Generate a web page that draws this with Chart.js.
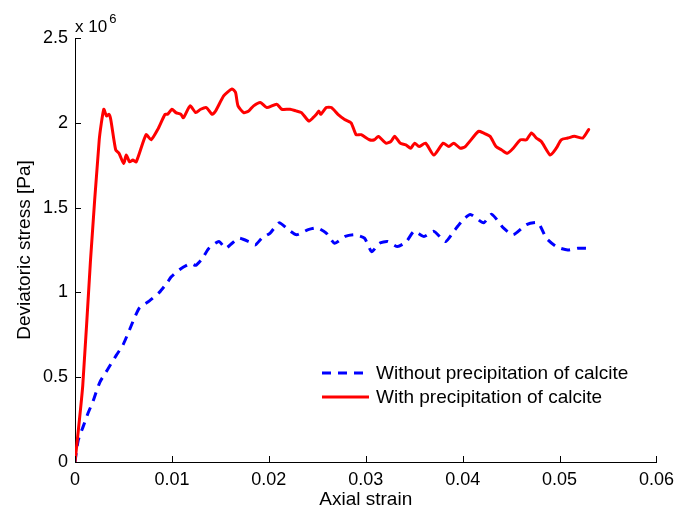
<!DOCTYPE html>
<html>
<head>
<meta charset="utf-8">
<title>Deviatoric stress vs axial strain</title>
<script src="https://cdn.jsdelivr.net/npm/chart.js@4/dist/chart.umd.min.js"></script>
<style>
  html, body { margin: 0; padding: 0; background: #ffffff; }
  #wrap { width: 681px; height: 512px; }
</style>
</head>
<body>
<div id="wrap"><canvas id="chart" width="681" height="512"></canvas></div>
<script>
// Axial strain (-) and deviatoric stress (x 10^6 Pa) for both tests
const blueStrain = [
  0, 0.00034, 0.00085, 0.00136, 0.00187, 0.00256, 0.00341, 0.00427, 0.00495, 0.00563,
  0.00614, 0.00666, 0.00768, 0.0087, 0.00955, 0.0099, 0.01092, 0.01195, 0.01246, 0.01314,
  0.01382, 0.01485, 0.01553, 0.01621, 0.01689, 0.01792, 0.0186, 0.01928, 0.02014, 0.02106,
  0.02201, 0.02286, 0.02406, 0.02501, 0.02593, 0.02679, 0.02788, 0.02884, 0.02987, 0.03061,
  0.0314, 0.03225, 0.03328, 0.0342, 0.03499, 0.03601, 0.03703, 0.03822, 0.03908, 0.03993,
  0.04078, 0.04215, 0.043, 0.0442, 0.04522, 0.04659, 0.04778, 0.04863, 0.04966, 0.05085,
  0.05188, 0.053
];
const blueStress = [
  0, 0.13, 0.21, 0.29, 0.36, 0.47, 0.55, 0.63, 0.69, 0.78,
  0.85, 0.91, 0.95, 1.00, 1.06, 1.09, 1.14, 1.17, 1.16, 1.20,
  1.26, 1.30, 1.26, 1.29, 1.32, 1.30, 1.28, 1.32, 1.35, 1.41,
  1.37, 1.34, 1.37, 1.38, 1.35, 1.29, 1.33, 1.34, 1.32, 1.24,
  1.29, 1.30, 1.27, 1.30, 1.36, 1.33, 1.36, 1.30, 1.36, 1.42,
  1.46, 1.41, 1.46, 1.38, 1.34, 1.40, 1.41, 1.32, 1.27, 1.25,
  1.26, 1.26
];
const redStrain = [
  0, 0.0008, 0.0016, 0.0025, 0.00297, 0.00325, 0.00351, 0.00369, 0.0042, 0.00454,
  0.00502, 0.00529, 0.00563, 0.00597, 0.00632, 0.00734, 0.00785, 0.00853, 0.00929, 0.00955,
  0.0100, 0.01041, 0.01092, 0.01119, 0.01188, 0.01246, 0.01297, 0.01355, 0.01416, 0.01451,
  0.01536, 0.01621, 0.01656, 0.01682, 0.01741, 0.01792, 0.01843, 0.01912, 0.01979, 0.02081,
  0.02133, 0.02219, 0.0228, 0.02337, 0.02413, 0.02457, 0.02491, 0.02516, 0.02536, 0.02593,
  0.02645, 0.02713, 0.02782, 0.02849, 0.02901, 0.02952, 0.03038, 0.03089, 0.0313, 0.03208,
  0.03259, 0.033, 0.03355, 0.03413, 0.03464, 0.03505, 0.0355, 0.03617, 0.03703, 0.03799,
  0.03857, 0.03908, 0.03976, 0.04027, 0.04164, 0.04215, 0.04283, 0.04344, 0.04403, 0.04461,
  0.04522, 0.04597, 0.04659, 0.0471, 0.04761, 0.04812, 0.04904, 0.04966, 0.05017, 0.05085,
  0.05153, 0.05239, 0.053
];
const redStress = [
  0, 0.45, 1.19, 1.90, 2.08, 2.04, 2.05, 2.02, 1.84, 1.82,
  1.76, 1.81, 1.77, 1.78, 1.77, 1.93, 1.90, 1.96, 2.05, 2.05,
  2.08, 2.06, 2.05, 2.03, 2.10, 2.06, 2.08, 2.09, 2.05, 2.07,
  2.16, 2.20, 2.18, 2.10, 2.06, 2.07, 2.10, 2.12, 2.09, 2.11,
  2.08, 2.08, 2.07, 2.06, 2.01, 2.03, 2.05, 2.07, 2.05, 2.09,
  2.09, 2.05, 2.02, 2.00, 1.93, 1.93, 1.90, 1.90, 1.92, 1.88,
  1.89, 1.92, 1.88, 1.87, 1.85, 1.88, 1.86, 1.88, 1.81, 1.88,
  1.86, 1.88, 1.85, 1.86, 1.95, 1.94, 1.92, 1.86, 1.84, 1.82,
  1.85, 1.90, 1.90, 1.94, 1.91, 1.89, 1.81, 1.85, 1.90, 1.91,
  1.92, 1.91, 1.96
];

const seriesLabels = ['Without precipitation of calcite', 'With precipitation of calcite'];
const xTicks = [0, 0.01, 0.02, 0.03, 0.04, 0.05, 0.06];
const xTickLabels = ['0', '0.01', '0.02', '0.03', '0.04', '0.05', '0.06'];
const yTicks = [0, 0.5, 1, 1.5, 2, 2.5];
const yTickLabels = ['0', '0.5', '1', '1.5', '2', '2.5'];
const yExponent = '6';

const FONT = '"Liberation Sans", Arial, Helvetica, sans-serif';

function toPoints(xs, ys) {
  return xs.map((x, i) => ({ x: x, y: ys[i] }));
}

// Inward tick marks on the left and bottom axes
const innerTicks = {
  id: 'innerTicks',
  afterDatasetsDraw(chart) {
    const { ctx, chartArea, scales } = chart;
    const len = 6;
    ctx.save();
    ctx.strokeStyle = '#000';
    ctx.lineWidth = 1;
    ctx.beginPath();
    scales.x.ticks.forEach(t => {
      const px = Math.round(scales.x.getPixelForValue(t.value)) + 0.5;
      ctx.moveTo(px, chartArea.bottom);
      ctx.lineTo(px, chartArea.bottom - len);
    });
    scales.y.ticks.forEach(t => {
      const py = Math.round(scales.y.getPixelForValue(t.value)) + 0.5;
      ctx.moveTo(chartArea.left, py);
      ctx.lineTo(chartArea.left + len, py);
    });
    ctx.stroke();
    ctx.restore();
  }
};

// "x 10^6" multiplier above the stress axis
const exponentLabel = {
  id: 'exponentLabel',
  afterDraw(chart) {
    const { ctx, chartArea } = chart;
    ctx.save();
    ctx.fillStyle = '#000';
    ctx.textBaseline = 'alphabetic';
    ctx.textAlign = 'left';
    ctx.font = '17px ' + FONT;
    const base = 'x 10';
    const x0 = chartArea.left;
    const y0 = chartArea.top - 6.5;
    ctx.fillText(base, x0, y0);
    const w = ctx.measureText(base).width;
    ctx.font = '13px ' + FONT;
    ctx.fillText(yExponent, x0 + w + 2, y0 - 9);
    ctx.restore();
  }
};

// Legend box inside the plot area, lower right
const innerLegend = {
  id: 'innerLegend',
  afterDraw(chart) {
    const { ctx } = chart;
    const left = 322, lineLen = 47, textGap = 7, top = 373, rowH = 24;
    ctx.save();
    ctx.font = '19px ' + FONT;
    ctx.textBaseline = 'middle';
    ctx.textAlign = 'left';
    chart.data.datasets.forEach((ds, i) => {
      const y = top + i * rowH;
      ctx.strokeStyle = ds.borderColor;
      ctx.lineWidth = ds.borderWidth;
      ctx.lineCap = 'butt';
      ctx.setLineDash(ds.borderDash || []);
      ctx.beginPath();
      ctx.moveTo(left, y);
      ctx.lineTo(left + lineLen, y);
      ctx.stroke();
      ctx.setLineDash([]);
      ctx.fillStyle = '#000';
      ctx.fillText(ds.label, left + lineLen + textGap, y + 1);
    });
    ctx.restore();
  }
};

new Chart(document.getElementById('chart'), {
  type: 'line',
  data: {
    datasets: [
      {
        label: seriesLabels[0],
        data: toPoints(blueStrain, blueStress),
        borderColor: '#0000ff',
        borderWidth: 3,
        borderDash: [9, 7],
        borderCapStyle: 'butt',
        borderJoinStyle: 'round',
        pointRadius: 0,
        tension: 0.2,
        fill: false,
        order: 1
      },
      {
        label: seriesLabels[1],
        data: toPoints(redStrain, redStress),
        borderColor: '#ff0000',
        borderWidth: 3,
        borderJoinStyle: 'round',
        borderCapStyle: 'round',
        pointRadius: 0,
        tension: 0.2,
        fill: false,
        order: 0
      }
    ]
  },
  options: {
    responsive: false,
    animation: false,
    events: [],
    layout: { padding: { left: 0, right: 20, top: 38, bottom: 0 } },
    plugins: {
      legend: { display: false },
      tooltip: { enabled: false }
    },
    scales: {
      x: {
        type: 'linear',
        min: xTicks[0],
        max: xTicks[xTicks.length - 1],
        afterBuildTicks(scale) { scale.ticks = xTicks.map(v => ({ value: v })); },
        afterFit(scale) { scale.height = 50; },
        grid: { display: false, drawTicks: false },
        border: { display: true, color: '#000', width: 1 },
        ticks: {
          color: '#000',
          font: { family: FONT, size: 18 },
          padding: 7,
          maxRotation: 0,
          autoSkip: false,
          callback: (v) => xTickLabels[xTicks.indexOf(v)] ?? ''
        },
        title: {
          display: true,
          text: 'Axial strain',
          color: '#000',
          font: { family: FONT, size: 19 },
          padding: { top: 0, bottom: 1 }
        }
      },
      y: {
        type: 'linear',
        min: yTicks[0],
        max: yTicks[yTicks.length - 1],
        afterBuildTicks(scale) { scale.ticks = yTicks.map(v => ({ value: v })); },
        afterFit(scale) { scale.width = 75; },
        grid: { display: false, drawTicks: false },
        border: { display: true, color: '#000', width: 1 },
        ticks: {
          color: '#000',
          font: { family: FONT, size: 18 },
          padding: 7,
          autoSkip: false,
          callback: (v) => yTickLabels[yTicks.indexOf(v)] ?? ''
        },
        title: {
          display: true,
          text: 'Deviatoric stress [Pa]',
          color: '#000',
          font: { family: FONT, size: 19 },
          padding: { top: 13, bottom: 0 }
        }
      }
    }
  },
  plugins: [innerTicks, exponentLabel, innerLegend]
});
</script>
</body>
</html>
